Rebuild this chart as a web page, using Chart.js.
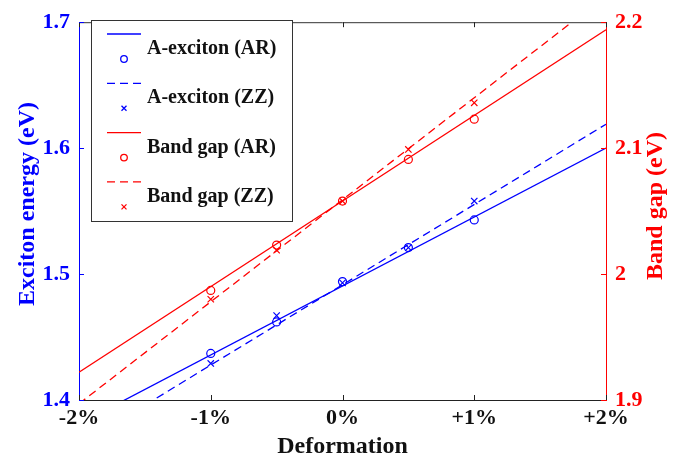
<!DOCTYPE html>
<html>
<head>
<meta charset="utf-8">
<script src="https://cdn.jsdelivr.net/npm/chart.js@4"></script>
<style>
  html, body { margin: 0; padding: 0; background: #fff; }
  #wrap { width: 692px; height: 462px; }
</style>
</head>
<body>
<div id="wrap"><canvas id="deformChart" width="692" height="462"></canvas></div>
<script>
// measured points (strain in %)
const strain = [-1, -0.5, 0, 0.5, 1];
const excitonAR = [1.437, 1.462, 1.494, 1.521, 1.543];
const excitonZZ = [1.429, 1.467, 1.493, 1.521, 1.558];
const gapAR = [1.987, 2.023, 2.058, 2.091, 2.123];
const gapZZ = [1.980, 2.019, 2.058, 2.099, 2.136];

// linear fits, read at -2% and +2%
const fitX = [-2, 2];
const excitonARFit = [1.381, 1.600];
const excitonZZFit = [1.364, 1.619];
const gapARFit = [1.922, 2.194];
const gapZZFit = [1.897, 2.221];

const seriesNames = ["A-exciton (AR)", "A-exciton (ZZ)", "Band gap (AR)", "Band gap (ZZ)"];
const xTickLabels = ["-2%", "-1%", "0%", "+1%", "+2%"];
const leftTickLabels = ["1.4", "1.5", "1.6", "1.7"];
const rightTickLabels = ["1.9", "2", "2.1", "2.2"];

const BLUE = "#0000ff";
const RED = "#ff0000";
const FONT = "'Liberation Serif', 'Times New Roman', serif";

function pts(xs, ys) {
    return xs.map((x, i) => ({ x: x, y: ys[i] }));
}

function fitSet(ys, color, axis, dashed) {
    return {
        type: "line",
        data: pts(fitX, ys),
        yAxisID: axis,
        borderColor: color,
        borderWidth: 1.3,
        borderDash: dashed ? [8, 5] : [],
        pointRadius: 0,
        fill: false
    };
}

function markSet(ys, color, axis, style) {
    return {
        type: "scatter",
        data: pts(strain, ys),
        yAxisID: axis,
        borderColor: color,
        backgroundColor: "rgba(0,0,0,0)",
        pointStyle: style,
        pointRadius: style === "circle" ? 4 : 4.5,
        pointBorderWidth: 1.2,
        showLine: false
    };
}

const legendItems = [
    { color: BLUE, dashed: false, marker: "circle" },
    { color: BLUE, dashed: true, marker: "cross" },
    { color: RED, dashed: false, marker: "circle" },
    { color: RED, dashed: true, marker: "cross" }
];

const decorPlugin = {
    id: "decor",
    afterDraw(chart) {
        const ctx = chart.ctx;
        const a = chart.chartArea;
        const x = chart.scales.x, y = chart.scales.y, y2 = chart.scales.y2;
        ctx.save();

        // top frame line
        ctx.strokeStyle = "#333";
        ctx.lineWidth = 1;
        ctx.beginPath();
        ctx.moveTo(a.left, a.top + 0.5);
        ctx.lineTo(a.right, a.top + 0.5);
        ctx.stroke();

        // inward ticks
        const tl = 5;
        ctx.strokeStyle = "#222";
        x.ticks.forEach(t => {
            const px = Math.round(x.getPixelForValue(t.value)) + 0.5;
            ctx.beginPath();
            ctx.moveTo(px, a.bottom); ctx.lineTo(px, a.bottom - tl);
            ctx.moveTo(px, a.top); ctx.lineTo(px, a.top + tl);
            ctx.stroke();
        });
        ctx.strokeStyle = BLUE;
        y.ticks.forEach(t => {
            const py = Math.round(y.getPixelForValue(t.value)) + 0.5;
            ctx.beginPath();
            ctx.moveTo(a.left, py); ctx.lineTo(a.left + tl, py);
            ctx.stroke();
        });
        ctx.strokeStyle = RED;
        y2.ticks.forEach(t => {
            const py = Math.round(y2.getPixelForValue(t.value)) + 0.5;
            ctx.beginPath();
            ctx.moveTo(a.right, py); ctx.lineTo(a.right - tl, py);
            ctx.stroke();
        });

        // axis titles
        ctx.font = "bold 24px " + FONT;
        ctx.textAlign = "center";
        ctx.textBaseline = "middle";
        ctx.fillStyle = BLUE;
        ctx.save();
        ctx.translate(28, 204);
        ctx.rotate(-Math.PI / 2);
        ctx.fillText("Exciton energy (eV)", 0, 0);
        ctx.restore();
        ctx.fillStyle = RED;
        ctx.save();
        ctx.translate(656, 206);
        ctx.rotate(-Math.PI / 2);
        ctx.fillText("Band gap (eV)", 0, 0);
        ctx.restore();
        ctx.fillStyle = "#111";
        ctx.textBaseline = "alphabetic";
        ctx.fillText("Deformation", (a.left + a.right) / 2, 453);

        // legend box
        const bx = 91.5, by = 20.5, bw = 201, bh = 201;
        ctx.fillStyle = "#fff";
        ctx.fillRect(bx, by, bw, bh);
        ctx.strokeStyle = "#333";
        ctx.lineWidth = 1;
        ctx.strokeRect(bx, by, bw, bh);
        legendItems.forEach((it, i) => {
            const ly = 34 + i * 49.3;
            ctx.strokeStyle = it.color;
            ctx.lineWidth = 1.3;
            ctx.setLineDash(it.dashed ? [8, 5] : []);
            ctx.beginPath();
            ctx.moveTo(107, ly); ctx.lineTo(141, ly);
            ctx.stroke();
            ctx.setLineDash([]);
            const my = ly + 25;
            ctx.beginPath();
            if (it.marker === "circle") {
                ctx.arc(124, my, 3.3, 0, Math.PI * 2);
            } else {
                ctx.moveTo(121.5, my - 2.5); ctx.lineTo(126.5, my + 2.5);
                ctx.moveTo(126.5, my - 2.5); ctx.lineTo(121.5, my + 2.5);
            }
            ctx.stroke();
            ctx.fillStyle = "#111";
            ctx.font = "bold 20px " + FONT;
            ctx.textAlign = "left";
            ctx.textBaseline = "middle";
            ctx.fillText(seriesNames[i], 147, ly + 15);
        });
        ctx.restore();
    }
};

const tickFont = { family: FONT, size: 22, weight: "bold" };

new Chart(document.getElementById("deformChart").getContext("2d"), {
    type: "scatter",
    data: {
        datasets: [
            fitSet(excitonARFit, BLUE, "y", false),
            markSet(excitonAR, BLUE, "y", "circle"),
            fitSet(excitonZZFit, BLUE, "y", true),
            markSet(excitonZZ, BLUE, "y", "crossRot"),
            fitSet(gapARFit, RED, "y2", false),
            markSet(gapAR, RED, "y2", "circle"),
            fitSet(gapZZFit, RED, "y2", true),
            markSet(gapZZ, RED, "y2", "crossRot")
        ]
    },
    options: {
        responsive: false,
        animation: false,
        layout: { padding: { top: 14, left: 0, right: 0, bottom: 0 } },
        plugins: {
            legend: { display: false },
            tooltip: { enabled: false }
        },
        scales: {
            x: {
                type: "linear",
                min: -2, max: 2,
                afterFit(s) { s.height = 62; },
                grid: { display: false, drawTicks: false },
                border: { color: "#222", width: 1 },
                ticks: {
                    stepSize: 1,
                    padding: 5,
                    color: "#111",
                    font: tickFont,
                    callback: v => xTickLabels[Math.round(v + 2)]
                }
            },
            y: {
                type: "linear",
                position: "left",
                min: 1.4, max: 1.7,
                afterFit(s) { s.width = 79; },
                grid: { display: false, drawTicks: false },
                border: { color: BLUE, width: 1 },
                ticks: {
                    stepSize: 0.1,
                    padding: 9,
                    color: BLUE,
                    font: tickFont,
                    callback: v => leftTickLabels[Math.round((v - 1.4) * 10)]
                }
            },
            y2: {
                type: "linear",
                position: "right",
                min: 1.9, max: 2.2,
                afterFit(s) { s.width = 86; },
                grid: { display: false, drawTicks: false },
                border: { color: RED, width: 1 },
                ticks: {
                    stepSize: 0.1,
                    padding: 9,
                    color: RED,
                    font: tickFont,
                    callback: v => rightTickLabels[Math.round((v - 1.9) * 10)]
                }
            }
        }
    },
    plugins: [decorPlugin]
});
</script>
</body>
</html>
